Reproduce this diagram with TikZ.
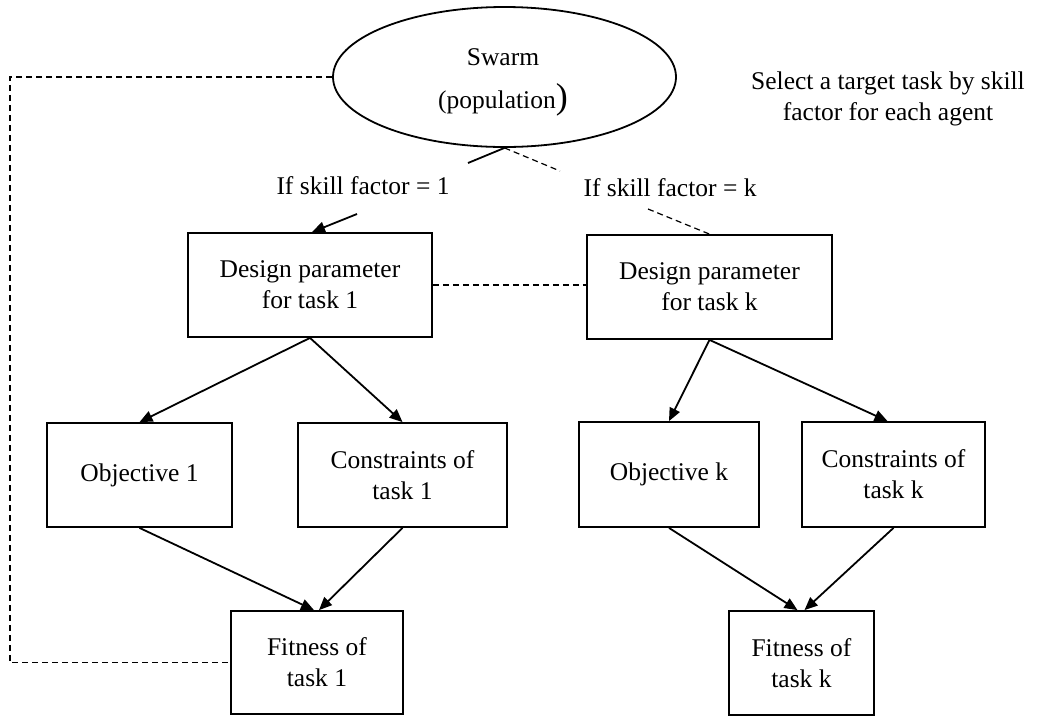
\documentclass[tikz,border=0pt]{standalone}
\usepackage{fontspec}
\setmainfont{Liberation Serif}
\usetikzlibrary{shapes.geometric,arrows.meta,calc}
\begin{document}
\begin{tikzpicture}[x=1pt,y=-1pt,
  box/.style={draw,line width=1.8pt,align=center,inner sep=0pt,
    font=\fontsize{25.5}{31}\selectfont},
  conn/.style={line width=1.8pt,-{Triangle[length=13pt,width=11pt]}},
  plain/.style={line width=1.8pt},
  link/.style={line width=1.2pt,dash pattern=on 6pt off 4pt},
  txt/.style={align=center,inner sep=0pt,font=\fontsize{25.5}{31}\selectfont}]
\useasboundingbox (0,0) rectangle (1038,716);

% population ellipse
\node[ellipse,draw,line width=1.8pt,minimum width=343pt,minimum height=140pt,inner sep=0pt]
  (swarm) at (504.5,77) {};
\node[txt] (swarmname) at (503,57) {Swarm};
\node[txt] (swarmpop) at (503,100) {(population{\fontsize{36}{36}\selectfont)}};

% task boxes
\node[box,minimum width=244pt,minimum height=104pt] (d1) at (310,285) {Design parameter\\for task 1};
\node[box,minimum width=245pt,minimum height=104pt] (dk) at (709.5,287) {Design parameter\\for task k};
\node[box,minimum width=185pt,minimum height=104pt] (o1) at (139.5,475) {Objective 1};
\node[box,minimum width=209pt,minimum height=104pt] (c1) at (402.5,475) {Constraints of\\task 1};
\node[box,minimum width=180pt,minimum height=105pt] (ok) at (669,474.5) {Objective k};
\node[box,minimum width=183pt,minimum height=105pt] (ck) at (893.5,474.5) {Constraints of\\task k};
\node[box,minimum width=172pt,minimum height=103pt] (f1) at (317,662.5) {Fitness of\\task 1};
\node[box,minimum width=145pt,minimum height=104pt] (fk) at (801.5,663) {Fitness of\\task k};

% labels
\node[txt] (lab1) at (363,186) {If skill factor = 1};
\node[txt] (labk) at (670,188) {If skill factor = k};
\node[txt] (note) at (888,99) {Select a target task by skill\\factor for each agent};

% selection links, broken around their labels
\coordinate (b1a) at (468,163);
\coordinate (b1b) at (357,214);
\draw[plain] (swarm.south) -- (b1a);
\draw[conn] (b1b) -- ([xshift=2pt]d1.north);
\coordinate (bka) at (560,171);
\coordinate (bkb) at (648,209);
\draw[link] (swarm.south) -- (bka);
\draw[link] (bkb) -- (dk.north);

% link between the design parameters
\draw[link] (d1.east) -- (d1.east -| dk.west);

% fitness feedback loop
\coordinate (loopcorner) at (10,77);
\draw[link] (swarm.west) -- (loopcorner) |- (f1.west);

% evaluation arrows
\draw[conn] (d1.south) -- (o1.north);
\draw[conn] (d1.south) -- (c1.north);
\draw[conn] (dk.south) -- (ok.north);
\draw[conn] (dk.south) -- ([xshift=-6pt]ck.north);
\draw[conn] (o1.south) -- ([xshift=-3pt]f1.north);
\draw[conn] (c1.south) -- ([xshift=2pt]f1.north);
\draw[conn] (ok.south) -- ([xshift=-4pt]fk.north);
\draw[conn] (ck.south) -- ([xshift=3pt]fk.north);
\end{tikzpicture}
\end{document}
